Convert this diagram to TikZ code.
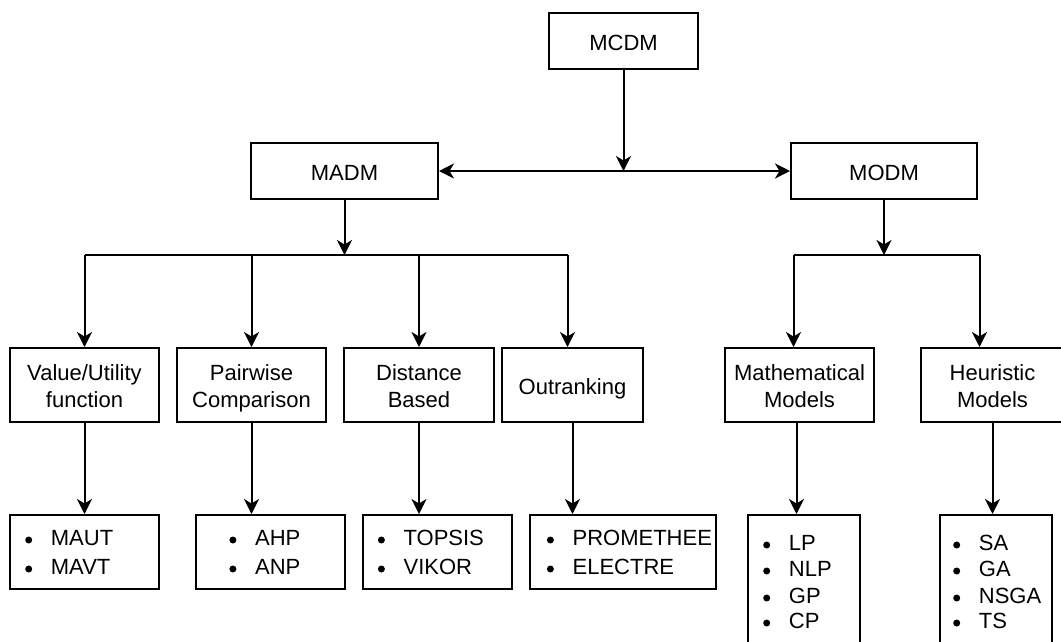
\documentclass[tikz,border=0pt]{standalone}
\usepackage{fontspec}
\setmainfont{Liberation Sans}
\usetikzlibrary{arrows.meta}

% uniform line box so every label sits at the same baselines
\newcommand{\sline}{\rule[-5pt]{0pt}{28pt}}
\newcommand{\boxfont}{\fontsize{22}{26.5}\selectfont\setlength{\lineskiplimit}{-20pt}}

\begin{document}
\begin{tikzpicture}[x=1pt,y=-1pt,
  >={Stealth[length=15pt,width=15pt,inset=4.5pt]},
  box/.style={draw=black, line width=2pt, rectangle, inner sep=0pt,
    align=center, text=black, font=\boxfont},
  ln/.style={line width=2pt, draw=black},
  arr/.style={ln, ->},
  item/.style={anchor=base west, inner sep=0pt, text=black,
    font=\fontsize{22}{26.5}\selectfont},
  dot/.style={fill=black}]
\useasboundingbox (0,0) rectangle (1061,641);
\clip (0,0) rectangle (1061,641);

% top levels
\node[box, minimum width=149pt, minimum height=56pt] (MCDM) at (623.5,41) {\sline MCDM};
\node[box, minimum width=187pt, minimum height=56pt] (MADM) at (344.5,171) {\sline MADM};
\node[box, minimum width=186pt, minimum height=56pt] (MODM) at (884,171) {\sline MODM};

% method families
\node[box, minimum width=149pt, minimum height=74pt] (VU) at (84.5,385) {\sline Value/Utility\\\sline function};
\node[box, minimum width=149pt, minimum height=74pt] (PC) at (251.5,385) {\sline Pairwise\\\sline Comparison};
\node[box, minimum width=150pt, minimum height=74pt] (DB) at (419,385) {\sline Distance\\\sline Based};
\node[box, minimum width=141pt, minimum height=74pt] (OR) at (572.5,385) {\sline Outranking};
\node[box, minimum width=149pt, minimum height=74pt] (MM) at (799.5,385) {\sline Mathematical\\\sline Models};
\node[box, minimum width=143pt, minimum height=74pt] (HM) at (992.5,385) {\sline Heuristic\\\sline Models};

% method lists
\node[box, minimum width=149pt, minimum height=74pt] (L1) at (84.5,552) {};
\node[box, minimum width=149pt, minimum height=74pt] (L2) at (270.5,552) {};
\node[box, minimum width=149pt, minimum height=74pt] (L3) at (437.5,552) {};
\node[box, minimum width=186pt, minimum height=74pt] (L4) at (623,552) {};
\node[box, minimum width=112pt, minimum height=145pt] (L5) at (804,587.5) {};
\node[box, minimum width=112pt, minimum height=145pt] (L6) at (996,587.5) {};

\node[item] (i11) at (50.7,545) {MAUT};
\node[item] (i12) at (50.7,574) {MAVT};
\node[item] (i21) at (254.9,545) {AHP};
\node[item] (i22) at (254.9,574) {ANP};
\node[item] (i31) at (403.4,545) {TOPSIS};
\node[item] (i32) at (403.4,574) {VIKOR};
\node[item] (i41) at (572.4,545) {PROMETHEE};
\node[item] (i42) at (572.4,574) {ELECTRE};
\node[item] (i51) at (788.7,550) {LP};
\node[item] (i52) at (788.7,576) {NLP};
\node[item] (i53) at (788.7,603) {GP};
\node[item] (i54) at (788.7,628) {CP};
\node[item] (i61) at (978.7,550) {SA};
\node[item] (i62) at (978.7,576) {GA};
\node[item] (i63) at (978.7,603) {NSGA};
\node[item] (i64) at (978.7,628) {TS};

% list bullets
\foreach \n in {i11,i12,i21,i22,i31,i32,i41,i42,i51,i52,i53,i54,i61,i62,i63,i64}
  \fill[dot] ([shift={(-22pt,5pt)}]\n.base west) circle (3.5pt);

% MCDM splits into MADM and MODM
\draw[ln, <->] (MADM.east) -- (MODM.west);
\draw[arr] (MCDM.south) -- (MCDM.south |- MADM.east);

% MADM branch
\coordinate (madmJ) at ([yshift=-55pt]MADM.south);
\coordinate (orIn) at ([xshift=-5pt]OR.north);
\draw[arr] (MADM.south) -- (madmJ);
\draw[ln] (VU.north |- madmJ) -- (orIn |- madmJ);
\draw[arr] (VU.north |- madmJ) -- (VU.north);
\draw[arr] (PC.north |- madmJ) -- (PC.north);
\draw[arr] (DB.north |- madmJ) -- (DB.north);
\draw[arr] (orIn |- madmJ) -- (orIn);

% MODM branch
\coordinate (modmJ) at ([yshift=-55pt]MODM.south);
\coordinate (mmIn) at ([xshift=-6pt]MM.north);
\coordinate (hmIn) at ([xshift=-13pt]HM.north);
\draw[arr] (MODM.south) -- (modmJ);
\draw[ln] (mmIn |- modmJ) -- (hmIn |- modmJ);
\draw[arr] (mmIn |- modmJ) -- (mmIn);
\draw[arr] (hmIn |- modmJ) -- (hmIn);

% families to their methods
\draw[arr] (VU.south) -- (VU.south |- L1.north);
\draw[arr] (PC.south) -- (PC.south |- L2.north);
\draw[arr] (DB.south) -- (DB.south |- L3.north);
\draw[arr] (OR.south) -- (OR.south |- L4.north);
\draw[arr] ([xshift=-3pt]MM.south) -- ([xshift=-3pt]MM.south |- L5.north);
\draw[arr] (HM.south) -- (HM.south |- L6.north);
\end{tikzpicture}
\end{document}
